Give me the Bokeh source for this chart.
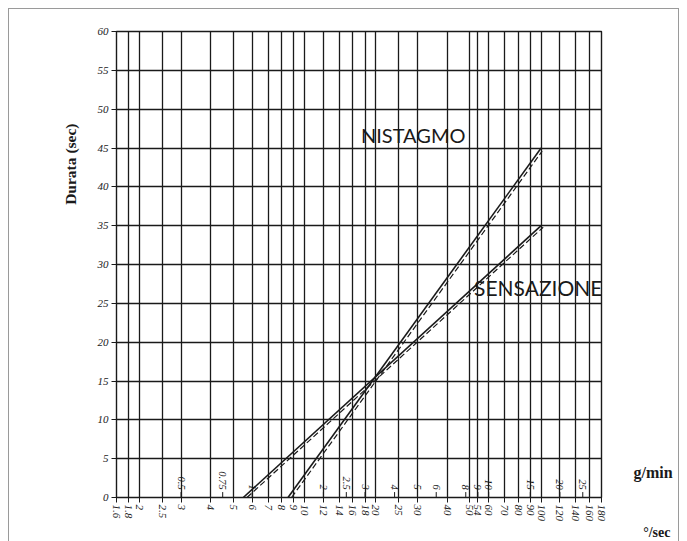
import math

from bokeh.core.properties import value
from bokeh.embed import file_html
from bokeh.models import (ColumnDataSource, FixedTicker, InlineStyleSheet,
                          Label, LinearAxis, Range1d, Title)
from bokeh.plotting import figure
from bokeh.resources import INLINE

# rotation speed in degrees per second (log axis) and the printed tick labels
deg_ticks = [1.6, 1.8, 2, 2.5, 3, 4, 5, 6, 7, 8, 9, 10, 12, 14, 16, 18, 20,
             25, 30, 40, 50, 54, 60, 70, 80, 90, 100, 120, 140, 160, 180]
deg_labels = ["1.6", "1.8", "2", "2.5", "3", "4", "5", "6", "7", "8", "9",
              "10", "12", "14", "16", "18", "20", "25", "30", "40", "50",
              "54", "60", "70", "80", "90", "100", "120", "140", "160", "180"]

# duration axis (seconds)
dur_ticks = list(range(0, 61, 5))

# secondary scale in turns per minute (1 g/min = 6 deg/s)
gmin_values = [0.5, 0.75, 1, 2, 2.5, 3, 4, 5, 6, 8, 9, 10, 15, 20, 25]
gmin_labels = ["0.5", "0.75", "1", "2", "2.5", "3", "4", "5", "6", "8", "9",
               "10", "15", "20", "25"]

# response lines: speed (deg/s) vs duration (s)
nist_x = [8.5, 100]
nist_y = [0, 45]
nist_fit_x = [8.8, 101]
nist_fit_y = [0, 44.6]

sens_x = [5.5, 100]
sens_y = [0, 35]
sens_fit_x = [5.7, 102]
sens_fit_y = [0, 34.8]

INK = "#1a1a1a"
SERIF = "Liberation Serif"

p = figure(width=687, height=541, x_axis_type="log",
           x_range=Range1d(1.6, 180), y_range=Range1d(0, 60),
           frame_width=485, frame_height=466,
           min_border_left=116, min_border_right=86,
           min_border_top=31, min_border_bottom=44,
           output_backend="svg", toolbar_location=None)

# thin page border
p.stylesheets = [InlineStyleSheet(css="""
:host::after {
  content: "";
  position: absolute;
  left: 8px; top: 8px; right: 8px; bottom: -20px;
  border: 1px solid #9a9a9a;
  pointer-events: none;
}
""")]

p.background_fill_color = "white"
p.border_fill_color = "white"
p.outline_line_color = INK
p.outline_line_width = 1.4

# x axis (deg/s)
xa = p.xaxis[0]
xa.ticker = FixedTicker(ticks=deg_ticks, minor_ticks=[])
xa.major_label_overrides = {t: lab for t, lab in zip(deg_ticks, deg_labels)}
xa.major_label_orientation = -math.pi / 2
xa.major_label_text_font = SERIF
xa.major_label_text_font_style = "italic"
xa.major_label_text_font_size = "11px"
xa.major_label_text_color = INK
xa.major_label_standoff = 2
xa.major_tick_in = 0
xa.major_tick_out = 5
xa.major_tick_line_color = INK
xa.minor_tick_line_color = None
xa.axis_line_color = INK

# y axis (duration)
ya = p.yaxis[0]
ya.ticker = FixedTicker(ticks=dur_ticks, minor_ticks=[])
ya.major_label_text_font = SERIF
ya.major_label_text_font_style = "italic"
ya.major_label_text_font_size = "11px"
ya.major_label_text_color = INK
ya.major_label_standoff = 3
ya.major_tick_in = 0
ya.major_tick_out = 5
ya.major_tick_line_color = INK
ya.minor_tick_line_color = None
ya.axis_line_color = INK

# unit caption for the inner scale, set beside the frame on the right
unit_axis = LinearAxis(ticker=FixedTicker(ticks=[3.2], minor_ticks=[]),
                       major_label_overrides={3.2: "g/min"},
                       axis_line_color=None, major_tick_line_color=None,
                       minor_tick_line_color=None,
                       major_tick_in=0, major_tick_out=0,
                       major_label_standoff=32,
                       major_label_text_font=SERIF,
                       major_label_text_font_style="bold",
                       major_label_text_font_size="16px",
                       major_label_text_color=INK)
p.add_layout(unit_axis, "right")

# axis titles
p.add_layout(Title(text="Durata (sec)", align="right", offset=92,
                   vertical_align="top", standoff=28,
                   text_font=SERIF, text_font_style="bold",
                   text_font_size="15.5px", text_color=INK), "left")
p.add_layout(Title(text="°/sec", align="right", offset=-69,
                   vertical_align="top", standoff=0,
                   text_font=SERIF, text_font_style="bold",
                   text_font_size="14px", text_color=INK), "below")

# dense chart-paper grid
p.xgrid.ticker = FixedTicker(ticks=deg_ticks, minor_ticks=[])
p.ygrid.ticker = FixedTicker(ticks=dur_ticks, minor_ticks=[])
for g in (p.xgrid[0], p.ygrid[0]):
    g.grid_line_color = INK
    g.grid_line_width = 1.3
    g.grid_line_alpha = 1.0

# response lines
p.line(nist_x, nist_y, line_color=INK, line_width=1.6)
p.line(nist_fit_x, nist_fit_y, line_color=INK, line_width=1.2,
       line_dash="6 3")
p.line(sens_x, sens_y, line_color=INK, line_width=1.6)
p.line(sens_fit_x, sens_fit_y, line_color=INK, line_width=1.2,
       line_dash="6 3")

# g/min scale printed inside the chart, just above the baseline
gsrc = ColumnDataSource(dict(
    x=[g * 6 for g in gmin_values],
    y=[0.0] * len(gmin_values),
    ytop=[0.7] * len(gmin_values),
    ylab=[1.0] * len(gmin_values),
    text=gmin_labels,
))
p.segment(x0="x", y0="y", x1="x", y1="ytop", source=gsrc,
          line_color=INK, line_width=1)
p.text(x="x", y="ylab", text="text", source=gsrc, angle=-math.pi / 2,
       text_align="right", text_baseline="middle",
       text_font=value(SERIF), text_font_style="italic",
       text_font_size="10.5px", text_color=INK)

# curve names
p.add_layout(Label(x=17.3, y=46.7, text="NISTAGMO", text_font="Lato",
                   text_font_size="20px", text_color=INK,
                   text_baseline="alphabetic"))
p.add_layout(Label(x=52.0, y=27.0, text="SENSAZIONE", text_font="Lato",
                   text_font_size="21px", text_color=INK,
                   text_baseline="alphabetic"))

open("out.html", "w").write(file_html(p, INLINE))
